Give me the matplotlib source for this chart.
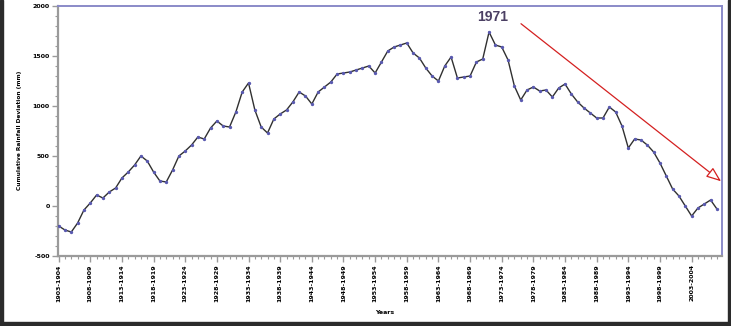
import numpy as np
import matplotlib.pyplot as plt
from matplotlib.patches import Rectangle
from matplotlib.ticker import MultipleLocator

# Cumulative rainfall departure, one value per year
years = np.arange(1903, 2008)
cumulative = [
    -200, -240, -260, -170, -40, 30, 110, 80, 140, 180,
    280, 340, 410, 500, 450, 340, 250, 240, 360, 500,
    550, 610, 690, 670, 780, 850, 800, 790, 940, 1140,
    1230, 960, 790, 730, 870, 920, 960, 1040, 1140, 1100,
    1020, 1140, 1190, 1240, 1320, 1330, 1340, 1360, 1380, 1400,
    1330, 1440, 1550, 1590, 1610, 1630, 1530, 1480, 1380, 1300,
    1250, 1400, 1490, 1280, 1290, 1300, 1440, 1470, 1740, 1610,
    1590, 1460, 1200, 1060, 1160, 1190, 1150, 1160, 1090, 1180,
    1220, 1120, 1040, 980, 930, 880, 880, 990, 940, 800,
    580, 670, 660, 610, 540, 430, 300, 170, 100, 0,
    -100, -20, 20, 60, -30,
]
label_years = np.arange(1903, 2004, 5)
tick_labels = [f"{y}-{y + 1}" for y in label_years]
y_ticks = [-500, 0, 500, 1000, 1500, 2000]

fig = plt.figure(figsize=(7.31, 3.26), dpi=100)
ax = fig.add_axes([58 / 731, 1 - 256 / 326, 664 / 731, 250 / 326])

ax.plot(years, cumulative, color="#303030", lw=1.0, marker="o", ms=1.4,
        mfc="#5a5ab0", mec="#5a5ab0", zorder=3)

ax.set_xlim(1902.9, 2007.8)
ax.set_ylim(-500, 2000)
ax.set_yticks(y_ticks)
ax.set_yticklabels([str(v) for v in y_ticks], fontsize=4.5, fontweight="bold")
ax.yaxis.set_minor_locator(MultipleLocator(100))
ax.set_xticks(label_years)
ax.set_xticklabels(tick_labels, rotation=90, fontsize=4.5, fontweight="bold")
ax.xaxis.set_minor_locator(MultipleLocator(1))

for side in ("left", "bottom"):
    ax.spines[side].set_color("#9a9a9a")
    ax.spines[side].set_linewidth(1.6)
for side in ("top", "right"):
    ax.spines[side].set_color("#8a8ac8")
    ax.spines[side].set_linewidth(1.4)
ax.tick_params(which="major", length=4, width=1, color="#9a9a9a", pad=2)
ax.tick_params(which="minor", length=2, width=0.8, color="#9a9a9a")

fig.text(0.027, 1 - 130 / 326, "Cumulative Rainfall Deviation (mm)", rotation=90,
         ha="center", va="center", fontsize=4.2, fontweight="bold")
fig.text(385 / 731, 1 - 312 / 326, "Years", ha="center", va="center",
         fontsize=4.5, fontweight="bold")

# 1971 marker with the falling-trend arrow
ax.text(1971.6, 1890, "1971", ha="center", va="center", fontsize=10,
        fontweight="bold", color="#4b3f63", family="Liberation Sans")
ax.annotate("", xy=(2008.0, 230), xytext=(1975.7, 1840),
            arrowprops=dict(arrowstyle="-|>,head_length=0.9,head_width=0.35",
                            color="#d42020", fc="white", lw=0.9),
            annotation_clip=False)

# dark frame around the figure edges
for x, y, w, h in [(0, 0, 3 / 731, 1), (728 / 731, 0, 3 / 731, 1), (0, 0, 1, 4 / 326)]:
    fig.patches.append(Rectangle((x, y), w, h, transform=fig.transFigure,
                                 color="#2b2b2b", zorder=10))

fig.savefig("out.png", dpi=100)
